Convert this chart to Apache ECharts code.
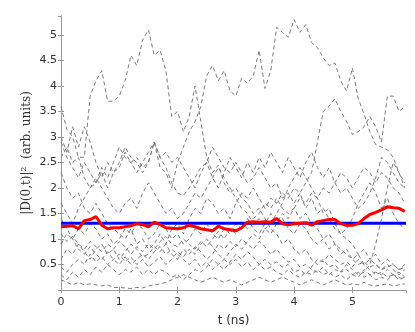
<!DOCTYPE html>
<html>
<head>
<meta charset="utf-8">
<script src="https://cdn.jsdelivr.net/npm/echarts@6/dist/echarts.min.js"></script>
<style>
  html, body { margin: 0; padding: 0; background: #fff; }
  #chart { width: 415px; height: 332px; }
</style>
</head>
<body>
<div id="chart"></div>
<script>
// time axis samples (ns)
var t = [0.0, 0.1, 0.2, 0.3, 0.4, 0.5, 0.6, 0.7, 0.8, 0.9,
         1.0, 1.1, 1.2, 1.3, 1.4, 1.5, 1.6, 1.7, 1.8, 1.9,
         2.0, 2.1, 2.2, 2.3, 2.4, 2.5, 2.6, 2.7, 2.8, 2.9,
         3.0, 3.1, 3.2, 3.3, 3.4, 3.5, 3.6, 3.7, 3.8, 3.9,
         4.0, 4.1, 4.2, 4.3, 4.4, 4.5, 4.6, 4.7, 4.8, 4.9,
         5.0, 5.1, 5.2, 5.3, 5.4, 5.5, 5.6, 5.7, 5.8, 5.9];

// individual trajectories (gray dashed)
var run1 = [3.6, 3.15, 3.0, 2.6, 2.6, 3.8, 4.1, 4.3, 3.7, 3.7,
            3.8, 4.1, 4.6, 4.4, 4.9, 5.1, 4.6, 4.7, 4.3, 3.4,
            3.5, 3.1, 3.4, 4.0, 3.3, 2.6, 2.3, 2.45, 2.1, 1.9,
            2.0, 1.8, 1.7, 1.5, 1.6, 1.4, 1.2, 1.1, 0.9, 1.0,
            0.8, 0.7, 0.8, 0.6, 0.5, 0.6, 0.45, 0.5, 0.35, 0.4,
            0.3, 0.35, 0.25, 0.3, 0.2, 0.25, 0.2, 0.3, 0.25, 0.2];
var run2 = [3.0, 2.7, 3.2, 2.8, 3.2, 2.9, 2.5, 2.2, 2.5, 2.3,
            2.4, 2.7, 2.5, 2.6, 2.4, 2.5, 2.9, 2.4, 2.3, 2.0,
            2.5, 2.8, 3.1, 3.3, 3.6, 4.2, 4.4, 4.1, 4.3, 3.9,
            3.8, 4.15, 4.05, 4.2, 4.7, 3.95, 4.3, 5.15, 5.05, 4.95,
            5.3, 5.05, 5.2, 4.85, 4.75, 4.55, 4.4, 4.45, 4.1, 3.9,
            4.35, 3.75, 3.45, 3.1, 2.85, 2.8, 2.75, 2.6, 2.3, 2.0];
var run3 = [2.3, 2.0, 1.8, 1.9, 1.6, 1.5, 1.7, 1.5, 1.3, 1.2,
            1.1, 1.0, 1.2, 0.9, 1.0, 0.8, 0.9, 1.1, 0.9, 1.2,
            1.3, 1.1, 1.4, 1.6, 1.5, 1.8, 1.7, 1.5, 1.6, 1.4,
            1.7, 1.9, 1.8, 2.0, 1.8, 1.6, 1.8, 1.7, 1.9, 1.8,
            2.0, 1.9, 2.1, 2.3, 2.9, 3.5, 3.6, 3.75, 3.5, 3.3,
            3.05, 3.1, 3.2, 3.4, 3.2, 2.9, 3.8, 3.8, 3.5, 3.6];
var run4 = [2.9, 2.6, 2.4, 2.2, 2.5, 2.3, 2.1, 2.3, 2.0, 2.3,
            2.5, 2.8, 2.6, 2.5, 2.3, 2.5, 2.9, 2.6, 2.4, 2.1,
            1.9, 1.85, 2.0, 2.2, 2.4, 2.5, 2.8, 2.6, 2.4, 2.3,
            2.5, 2.3, 2.1, 2.2, 2.4, 2.2, 2.0, 2.1, 1.8, 1.9,
            1.7, 1.9, 1.6, 1.8, 1.5, 1.6, 1.4, 1.2, 1.1, 1.0,
            0.9, 0.7, 0.8, 0.6, 0.7, 0.5, 0.6, 0.5, 0.4, 0.5];
var run5 = [2.6, 2.8, 2.5, 2.6, 2.2, 2.0, 2.1, 2.4, 2.2, 2.5,
            2.8, 2.6, 2.5, 2.3, 2.5, 2.7, 2.9, 2.6, 2.7, 2.5,
            2.6, 2.4, 2.2, 2.0, 2.3, 2.5, 2.2, 2.0, 2.3, 2.6,
            2.4, 2.2, 2.5, 2.3, 2.6, 2.4, 2.7, 2.5, 2.3, 2.6,
            2.4, 2.2, 2.5, 2.7, 2.4, 2.2, 2.4, 2.1, 1.9, 2.0,
            1.8, 1.6, 1.7, 1.9, 2.2, 2.6, 2.5, 2.3, 2.1, 2.0];
var run6 = [1.7, 1.5, 1.3, 1.6, 1.8, 2.0, 2.2, 2.0, 1.8, 1.6,
            1.5, 1.7, 1.8, 1.6, 1.9, 2.1, 1.9, 1.7, 1.5, 1.6,
            1.4, 1.5, 1.7, 1.9, 1.8, 2.0, 2.2, 2.4, 2.2, 2.0,
            1.8, 1.6, 1.5, 1.3, 1.4, 1.2, 1.3, 1.5, 1.7, 2.0,
            2.2, 2.4, 2.2, 2.0, 1.8, 1.5, 1.6, 1.3, 1.1, 1.2,
            1.4, 1.7, 1.9, 2.1, 1.9, 1.6, 1.8, 1.5, 1.3, 1.2];
var run7 = [0.9, 1.1, 1.0, 1.2, 1.1, 1.3, 1.2, 1.0, 1.1, 0.9,
            1.0, 1.2, 1.1, 1.3, 1.2, 1.0, 1.1, 1.3, 1.2, 1.0,
            1.1, 0.9, 1.0, 1.2, 1.1, 1.3, 1.1, 1.0, 1.2, 1.1,
            1.3, 1.2, 1.4, 1.2, 1.1, 1.3, 1.5, 1.3, 1.4, 1.2,
            1.1, 1.3, 1.2, 1.0, 0.9, 1.0, 0.8, 0.9, 0.7, 0.8,
            0.6, 0.7, 0.5, 0.6, 0.5, 0.4, 0.5, 0.4, 0.3, 0.4];
var run8 = [0.6, 0.8, 0.7, 0.9, 0.75, 0.6, 0.8, 0.9, 0.7, 0.8,
            0.6, 0.75, 0.9, 0.8, 0.65, 0.7, 0.85, 0.75, 0.9, 0.7,
            0.6, 0.8, 0.7, 0.85, 0.75, 0.6, 0.7, 0.9, 0.8, 0.95,
            0.85, 1.0, 0.9, 0.8, 0.95, 0.85, 0.7, 0.8, 0.65, 0.55,
            0.6, 0.45, 0.5, 0.4, 0.35, 0.45, 0.3, 0.4, 0.35, 0.5,
            0.4, 0.3, 0.35, 0.5, 0.9, 1.4, 2.0, 2.5, 2.3, 2.1];
var run9 = [0.45, 0.35, 0.5, 0.6, 0.5, 0.7, 0.55, 0.65, 0.5, 0.6,
            0.7, 0.55, 0.65, 0.5, 0.6, 0.45, 0.55, 0.65, 0.5, 0.6,
            0.75, 0.65, 0.8, 0.7, 0.9, 1.0, 0.85, 0.7, 0.6, 0.5,
            0.6, 0.45, 0.55, 0.4, 0.5, 0.6, 0.5, 0.55, 0.45, 0.5,
            0.35, 0.4, 0.3, 0.45, 0.6, 0.55, 0.7, 0.6, 0.5, 0.55,
            0.45, 0.6, 0.5, 0.4, 0.3, 0.35, 0.25, 0.3, 0.2, 0.25];
var run10 = [0.3, 0.2, 0.35, 0.25, 0.4, 0.3, 0.45, 0.35, 0.5, 0.4,
             0.3, 0.4, 0.35, 0.45, 0.3, 0.4, 0.3, 0.4, 0.35, 0.25,
             0.3, 0.2, 0.3, 0.4, 0.35, 0.45, 0.6, 0.5, 0.4, 0.55,
             0.7, 0.6, 0.75, 0.65, 0.5, 0.4, 0.45, 0.35, 0.3, 0.4,
             0.3, 0.25, 0.35, 0.3, 0.4, 0.3, 0.35, 0.25, 0.3, 0.2,
             0.3, 0.25, 0.4, 0.3, 0.35, 0.3, 0.4, 0.3, 0.35, 0.25];
var run11 = [0.2, 0.15, 0.1, 0.15, 0.1, 0.12, 0.1, 0.08, 0.1, 0.05,
             0.05, 0.04, 0.03, 0.05, 0.04, 0.08, 0.1, 0.12, 0.15, 0.2,
             0.25, 0.3, 0.25, 0.2, 0.15, 0.2, 0.25, 0.2, 0.15, 0.2,
             0.15, 0.1, 0.15, 0.2, 0.25, 0.2, 0.15, 0.2, 0.25, 0.2,
             0.15, 0.1, 0.15, 0.2, 0.15, 0.1, 0.15, 0.2, 0.15, 0.1,
             0.12, 0.1, 0.15, 0.1, 0.08, 0.1, 0.12, 0.08, 0.1, 0.12];
var run12 = [1.1, 0.95, 1.05, 0.9, 0.8, 0.95, 0.85, 0.75, 0.9, 0.8,
             0.95, 0.85, 0.7, 0.85, 0.75, 0.9, 0.8, 0.95, 1.05, 0.9,
             0.85, 1.0, 0.9, 0.8, 0.95, 0.85, 1.0, 1.15, 1.0, 1.2,
             1.1, 1.3, 1.2, 1.4, 1.5, 1.7, 1.6, 1.8, 1.6, 1.5,
             1.6, 1.4, 1.5, 1.3, 1.2, 1.0, 1.1, 0.9, 0.8, 0.7,
             0.6, 0.5, 0.55, 0.45, 0.5, 0.4, 0.45, 0.5, 0.4, 0.45];
var run13 = [1.4, 1.2, 1.0, 0.8, 0.7, 0.85, 0.7, 0.6, 0.75, 0.6,
             0.5, 0.65, 0.5, 0.6, 0.7, 0.6, 0.75, 0.85, 0.7, 0.8,
             0.7, 0.6, 0.5, 0.6, 0.45, 0.55, 0.4, 0.5, 0.6, 0.75,
             0.9, 0.8, 0.95, 1.1, 1.0, 1.2, 1.1, 1.3, 1.5, 1.4,
             1.6, 1.8, 1.7, 1.9, 1.8, 2.0, 1.9, 2.1, 2.3, 2.2,
             2.0, 2.2, 2.4, 2.3, 2.1, 2.3, 2.2, 2.0, 1.9, 1.7];

// ensemble average (red) and long-time level (blue)
var meanCurve = [1.24, 1.25, 1.26, 1.2, 1.36, 1.38, 1.44, 1.27, 1.2, 1.22,
                 1.22, 1.24, 1.26, 1.3, 1.28, 1.24, 1.33, 1.28, 1.22, 1.21,
                 1.2, 1.22, 1.27, 1.24, 1.2, 1.18, 1.16, 1.25, 1.2, 1.18,
                 1.16, 1.22, 1.33, 1.34, 1.33, 1.34, 1.33, 1.4, 1.3, 1.28,
                 1.3, 1.31, 1.32, 1.27, 1.34, 1.36, 1.38, 1.38, 1.3, 1.27,
                 1.27, 1.3, 1.4, 1.48, 1.52, 1.57, 1.63, 1.61, 1.6, 1.54];
var levelT = [0, 5.92];
var levelValue = 1.31;

var runs = [run1, run2, run3, run4, run5, run6, run7, run8, run9, run10, run11, run12, run13];

function pairs(xs, ys) {
  var out = [];
  for (var i = 0; i < xs.length; i++) out.push([xs[i], ys[i]]);
  return out;
}

var chart = echarts.init(document.getElementById('chart'));

var series = runs.map(function (r) {
  return {
    type: 'line',
    data: pairs(t, r),
    showSymbol: false,
    silent: true,
    lineStyle: { color: '#7a7a7a', width: 1, type: [4, 3] },
    z: 1
  };
});
series.push({
  type: 'line',
  data: levelT.map(function (x) { return [x, levelValue]; }),
  showSymbol: false,
  lineStyle: { color: '#0000ff', width: 3 },
  z: 3
});
series.push({
  type: 'line',
  data: pairs(t, meanCurve),
  showSymbol: false,
  lineStyle: { color: '#ff0000', width: 3 },
  z: 4
});

var frame = '#9a9a9a';
var labelFont = { color: '#333', fontSize: 11, fontFamily: 'DejaVu Sans' };

chart.setOption({
  animation: false,
  backgroundColor: '#fff',
  grid: { left: 61, right: 9, top: 16, bottom: 40 },
  xAxis: [{
    type: 'value',
    min: 0, max: 5.92, interval: 1,
    name: 't (ns)',
    nameLocation: 'middle',
    nameGap: 25,
    nameTextStyle: { color: '#333', fontSize: 12, fontFamily: 'DejaVu Sans' },
    axisLine: { lineStyle: { color: frame } },
    axisTick: { inside: true, length: 3, lineStyle: { color: frame } },
    axisLabel: Object.assign({ margin: 7, showMaxLabel: false }, labelFont),
    splitLine: { show: false }
  }, {
    type: 'value', position: 'top',
    min: 0, max: 5.92, interval: 1,
    axisLine: { lineStyle: { color: frame } },
    axisTick: { inside: true, length: 3, lineStyle: { color: frame } },
    axisLabel: { show: false },
    splitLine: { show: false }
  }],
  yAxis: [{
    type: 'value',
    min: 0, max: 5.37, interval: 0.5,
    name: '|D(0,t)|\u00b2  (arb. units)',
    nameLocation: 'middle',
    nameGap: 28,
    nameMoveOverlap: false,
    nameTextStyle: { color: '#333', fontSize: 12, fontFamily: 'DejaVu Serif' },
    axisLine: { lineStyle: { color: frame } },
    axisTick: { inside: true, length: 3, lineStyle: { color: frame } },
    axisLabel: Object.assign({
      margin: 4,
      showMaxLabel: false,
      formatter: function (v) { return v === 0 ? '' : String(v); }
    }, labelFont),
    splitLine: { show: false }
  }, {
    type: 'value', position: 'right',
    min: 0, max: 5.37, interval: 0.5,
    axisLine: { show: true, lineStyle: { color: frame } },
    axisTick: { show: true, inside: true, length: 3, lineStyle: { color: frame } },
    axisLabel: { show: false },
    splitLine: { show: false }
  }],
  series: series
});
</script>
</body>
</html>
